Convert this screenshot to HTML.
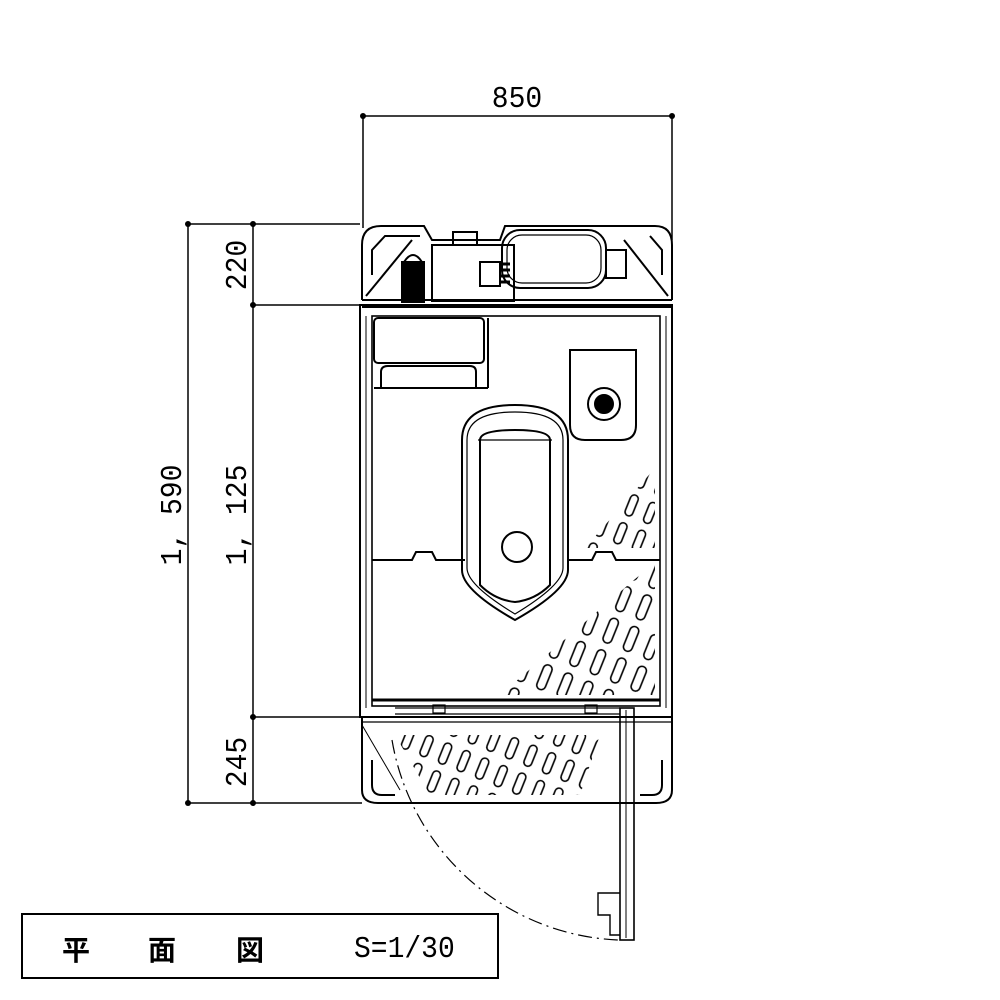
<!DOCTYPE html>
<html><head><meta charset="utf-8"><style>
html,body{margin:0;padding:0;background:#fff}
svg{display:block}
text{font-family:"Liberation Sans","Noto Sans CJK JP",sans-serif;fill:#000}
text.m{font-family:"Liberation Mono",monospace}
</style></head><body>
<svg width="1000" height="1000" viewBox="0 0 1000 1000" xmlns="http://www.w3.org/2000/svg">
<defs>
<pattern id="slots" width="22" height="34" patternUnits="userSpaceOnUse" patternTransform="rotate(22)">
<rect x="6" y="3" width="9" height="26" rx="4.5" fill="none" stroke="#000" stroke-width="1.6"/>
</pattern>
<pattern id="slots2" width="20" height="30" patternUnits="userSpaceOnUse" patternTransform="rotate(22) translate(5,8)">
<rect x="6" y="3" width="8" height="22" rx="4" fill="none" stroke="#000" stroke-width="1.6"/>
</pattern>
</defs>
<g stroke="#000" fill="none" stroke-width="1.5">
<line x1="363" y1="116" x2="672" y2="116"/>
<line x1="363" y1="116" x2="363" y2="228"/>
<line x1="672" y1="116" x2="672" y2="240"/>
<line x1="188" y1="224" x2="360" y2="224"/>
<line x1="188" y1="803" x2="362" y2="803"/>
<line x1="188" y1="224" x2="188" y2="803"/>
<line x1="253" y1="224" x2="253" y2="803"/>
<line x1="253" y1="305" x2="364" y2="305"/>
<line x1="253" y1="717" x2="362" y2="717"/>
</g>
<g fill="#000">
<circle cx="363" cy="116" r="3"/><circle cx="672" cy="116" r="3"/>
<circle cx="188" cy="224" r="3"/><circle cx="253" cy="224" r="3"/>
<circle cx="253" cy="305" r="3"/><circle cx="253" cy="717" r="3"/>
<circle cx="188" cy="803" r="3"/><circle cx="253" cy="803" r="3"/>
</g>
<g font-size="28">
<text class="m" transform="translate(517,107) scale(1,1.1)" text-anchor="middle">850</text>
<text class="m" transform="translate(246,265) rotate(-90) scale(1,1.1)" text-anchor="middle">220</text>
<text class="m" transform="translate(246,515) rotate(-90) scale(1,1.1)" text-anchor="middle">1, 125</text>
<text class="m" transform="translate(246,762) rotate(-90) scale(1,1.1)" text-anchor="middle">245</text>
<text class="m" transform="translate(181,515) rotate(-90) scale(1,1.1)" text-anchor="middle">1, 590</text>
</g>

<g stroke="#000" fill="none" stroke-width="2">
<path d="M362 300 L362 245 Q362 226 381 226 L424 226 L432 240 L500 240 L505 226 L655 226 Q672 226 672 245 L672 300"/>
<path d="M372 275 L372 250 L385 236 L420 236"/>
<path d="M662 275 L662 250 L650 236"/>
<path d="M366 296 L412 240"/><path d="M668 296 L624 240"/>
<rect x="432" y="245" width="82" height="56"/>
<rect x="453" y="232" width="24" height="13"/>
<rect x="402" y="262" width="22" height="40" fill="#000"/>
<path d="M404 262 Q413 248 422 262"/>
<rect x="480" y="262" width="20" height="24"/>
<path d="M500 264 h10 M500 270 h10 M500 276 h10 M500 282 h10" stroke-width="3"/>
<rect x="502" y="230" width="104" height="58" rx="18"/>
<rect x="507" y="235" width="94" height="48" rx="15" stroke-width="1.2"/>
<rect x="606" y="250" width="20" height="28"/>
<line x1="362" y1="300" x2="672" y2="300"/>
<line x1="362" y1="307" x2="672" y2="307"/>
<rect x="360" y="305" width="312" height="412"/>
<rect x="372" y="316" width="288" height="390" stroke-width="1.6"/>
<line x1="366" y1="316" x2="366" y2="708" stroke-width="1"/>
<line x1="666" y1="316" x2="666" y2="708" stroke-width="1"/>
<line x1="372" y1="700" x2="660" y2="700" stroke-width="3"/>
<rect x="374" y="318" width="110" height="45" rx="4"/>
<path d="M381 388 L381 372 Q381 366 388 366 L470 366 Q476 366 476 372 L476 388"/>
<line x1="374" y1="388" x2="488" y2="388"/>
<line x1="488" y1="318" x2="488" y2="388"/>
<path d="M570 350 L636 350 L636 425 Q636 440 621 440 L585 440 Q570 440 570 425 Z"/>
<circle cx="604" cy="404" r="16"/>
<circle cx="604" cy="404" r="9" fill="#000"/>
<path d="M372 560 L412 560 L416 552 L432 552 L436 560 L465 560"/>
<path d="M568 560 L592 560 L596 552 L612 552 L616 560 L660 560"/>
<path d="M462 440 Q462 405 515 405 Q568 405 568 440 L568 570 Q568 590 515 620 Q462 590 462 570 Z"/>
<path d="M467 440 Q467 412 515 412 Q563 412 563 440 L563 568 Q563 585 515 614 Q467 585 467 568 Z" stroke-width="1.2"/>
<path d="M480 440 Q480 430 515 430 Q550 430 550 440 L550 585 Q535 600 515 602 Q495 600 480 585 Z"/>
<path d="M478 440 L552 440" stroke-width="1.2"/>
<circle cx="517" cy="547" r="15"/>
<path d="M362 717 L362 790 Q362 803 378 803 L656 803 Q672 803 672 790 L672 717"/>
<line x1="362" y1="722" x2="672" y2="722" stroke-width="1.2"/>
<path d="M372 760 L372 785 Q372 795 382 795 L395 795"/>
<path d="M662 760 L662 785 Q662 795 652 795 L640 795"/>
<path d="M362 725 L400 790" stroke-width="1"/>
<line x1="395" y1="708" x2="620" y2="708" stroke-width="1.2"/>
<line x1="395" y1="714" x2="620" y2="714" stroke-width="1.2"/>
<rect x="433" y="705" width="12" height="8" stroke-width="1.2"/>
<rect x="585" y="705" width="12" height="8" stroke-width="1.2"/>
<rect x="620" y="708" width="14" height="232" stroke-width="1.6"/>
<line x1="626" y1="710" x2="626" y2="938" stroke-width="1"/>
<path d="M620 893 L598 893 L598 915 L610 915 L610 935 L620 935" stroke-width="1.4"/>
<path d="M392 740 A240 240 0 0 0 618 940" stroke-width="1.2" stroke-dasharray="14 5 2 5"/>
</g>
<polygon points="655,468 655,548 585,548" fill="url(#slots2)"/>
<polygon points="655,562 655,695 500,695" fill="url(#slots)"/>
<polygon points="395,735 600,735 580,795 430,795" fill="url(#slots2)"/>
<rect x="22" y="914" width="476" height="64" fill="none" stroke="#000" stroke-width="2"/>
<text x="62" y="960" font-size="28" font-weight="bold">平</text>
<text x="148" y="960" font-size="28" font-weight="bold">面</text>
<text x="236" y="960" font-size="28" font-weight="bold">図</text>
<text class="m" transform="translate(354,957) scale(1,1.1)" font-size="28">S=1/30</text>
</svg>
</body></html>
